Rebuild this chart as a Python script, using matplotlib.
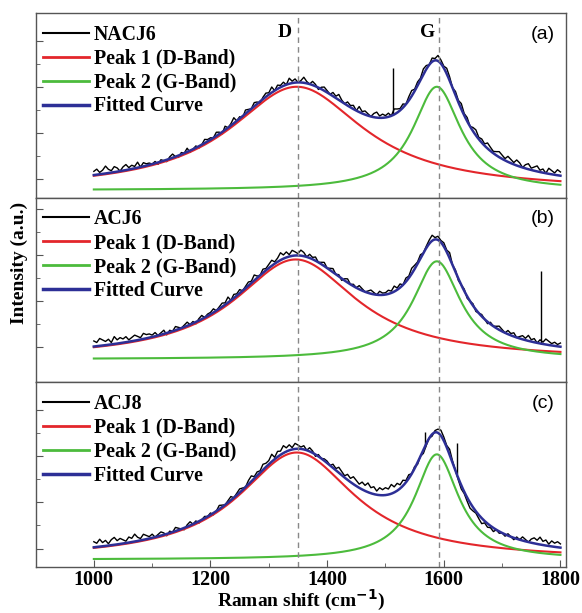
import numpy as np
import matplotlib
matplotlib.use('Agg')
from matplotlib import pyplot as plt
from matplotlib.lines import Line2D


SAMPLES = ['NACJ6', 'ACJ6', 'ACJ8']
PANEL_TAGS = ['(a)', '(b)', '(c)']
SERIES = ['Peak 1 (D-Band)', 'Peak 2 (G-Band)', 'Fitted Curve']

# fit parameters (intensity in panel height units)
BASELINE = [0.04, 0.125, 0.04]
D_CENTER = [1348, 1346, 1348]
D_HWHM = [140, 128, 122]
D_HEIGHT = [0.56, 0.54, 0.58]
G_CENTER = [1588, 1588, 1588]
G_HWHM = [50, 50, 46]
G_HEIGHT = [0.56, 0.53, 0.57]

# measured spectrum = fitted curve + residual (x 0.01), every 5 cm-1 from 1000 to 1800
RESIDUALS = [
    [2, 3, 1, 2, 4, 2, 1, 3, 2, 0, 2, 3, 1, 2, 1, 3, 0, 2, 1, 1,
     0, 1, -1, 1, 0, -1, 1, 2, 0, -1, 1, 0, 2, -1, 0, 1, -1, 0, 2, 1,
     1, 0, 2, 1, -1, 2, 0, 1, 3, 0, 1, -1, 2, 1, 0, 2, 1, -1, 1, 2,
     1, 3, 0, 2, 1, 2, 0, 3, 1, 2, 0, 1, 3, 1, 0, 2, 1, -1, 1, 2,
     1, 0, 2, 1, 3, 1, 0, 2, 1, 2, 0, 3, 1, 2, 1, 0, 2, 3, 1, 2,
     1, 2, 0, 3, 2, 1, 2, 0, 2, 3, 1, 2, 1, 3, 2, 0, 2, 1, 3, 2,
     1, 3, 2, 0, 2, 1, 3, 1, 2, 0, 2, 3, 1, 2, 1, 3, 2, 1, 2, 3,
     2, 1, 3, 2, 1, 3, 2, 0, 2, 3, 1, 2, 3, 1, 2, 0, 3, 2, 1, 3,
     2],
    [3, 2, 4, 3, 2, 3, 1, 4, 2, 3, 2, 3, 1, 2, 3, 2, 1, 3, 2, 2,
     1, 2, 0, 1, 2, -1, 1, 0, 2, 1, 0, 1, 2, 0, 1, -1, 1, 2, 0, 1,
     1, 2, 0, 1, 2, 1, 3, 0, 2, 1, 2, 0, 1, 2, 1, 3, 1, 0, 2, 1,
     2, 3, 1, 2, 4, 2, 3, 1, 3, 2, 1, 3, 2, 0, 2, 1, 2, 0, 1, 2,
     0, 1, 2, 0, 1, -1, 1, 2, 0, 1, 0, 2, 1, 0, 1, 2, 1, 0, 2, 1,
     1, 2, 1, 3, 1, 2, 0, 2, 1, 3, 2, 1, 2, 0, 1, 2, 3, 1, 2, 1,
     2, 1, 3, 0, 1, -1, 0, 1, -1, 0, 1, -1, 0, 1, 0, -1, 1, 0, 1, 2,
     1, 0, 2, 1, 2, 0, 1, 2, 1, 3, 1, 2, 0, 2, 1, 3, 2, 1, 2, 1,
     2],
    [3, 2, 4, 2, 3, 1, 3, 4, 2, 3, 2, 1, 3, 2, 4, 2, 1, 3, 2, 1,
     2, 0, 1, 2, 1, -1, 1, 0, 2, 1, 0, -1, 1, 2, 0, 1, -1, 0, 1, 0,
     1, -1, 0, 2, 1, 0, 1, 2, 0, 1, 2, 1, 0, 2, 3, 1, 2, 1, 3, 2,
     2, 4, 1, 3, 2, 4, 2, 3, 1, 3, 2, 1, 2, 0, 2, 1, -1, 1, 0, 1,
     1, 0, 2, 1, 3, 2, 1, 3, 2, 4, 3, 2, 4, 3, 5, 3, 4, 2, 4, 3,
     4, 3, 5, 3, 4, 2, 3, 1, 2, 0, 1, -1, 0, -2, -1, 0, -1, 1, 2, 3,
     2, 1, 3, 1, 0, -1, -2, -1, -2, -3, -2, -1, -2, -3, -1, -2, -1, -2, 0, -1,
     0, -1, 1, 0, -1, 1, 0, 2, 1, 0, 2, 3, 2, 4, 2, 3, 1, 3, 2, 3,
     2],
]

# single-channel spikes in the measured spectra
SPIKE_X = [[1513], [1766], [1567, 1622]]
SPIKE_TOP = [[0.70], [0.60], [0.73, 0.67]]

D_LINE = 1350
G_LINE = 1592

RED = '#e3262b'
GREEN = '#4cbb3c'
BLUE = '#2d2f96'
FRAME = '#555555'
SERIF = 'Liberation Serif'


def lorentz(x, center, hwhm, height):
    return height * hwhm ** 2 / ((x - center) ** 2 + hwhm ** 2)


fig, axes = plt.subplots(3, 1, figsize=(5.82, 6.13), dpi=100, sharex=True)
fig.subplots_adjust(left=0.061, right=0.973, top=0.979, bottom=0.075, hspace=0)

x_fine = np.linspace(1000, 1800, 801)
x_raw = np.arange(1000, 1801, 5)
tick_start = [0.10, 0.19, 0.10]

for i, ax in enumerate(axes):
    b = BASELINE[i]

    def fit(x):
        return (b + lorentz(x, D_CENTER[i], D_HWHM[i], D_HEIGHT[i])
                + lorentz(x, G_CENTER[i], G_HWHM[i], G_HEIGHT[i]))

    raw = fit(x_raw) + np.array(RESIDUALS[i]) / 100.0
    ax.plot(x_raw, raw, color='black', lw=1.0)
    sx = np.array(SPIKE_X[i])
    ax.vlines(sx, fit(sx), SPIKE_TOP[i], color='black', lw=1.0)

    ax.plot(x_fine, b + lorentz(x_fine, D_CENTER[i], D_HWHM[i], D_HEIGHT[i]),
            color=RED, lw=1.5)
    ax.plot(x_fine, b + lorentz(x_fine, G_CENTER[i], G_HWHM[i], G_HEIGHT[i]),
            color=GREEN, lw=1.5)
    ax.plot(x_fine, fit(x_fine), color=BLUE, lw=1.8)

    ax.axvline(D_LINE, color='#888888', ls=(0, (4, 3)), lw=1.0)
    ax.axvline(G_LINE, color='#888888', ls=(0, (4, 3)), lw=1.0)

    ax.set_xlim(900, 1810)
    ax.set_ylim(0, 1)
    major = np.arange(tick_start[i], 1.0, 0.25)
    ax.set_yticks(major)
    ax.set_yticks(major[:-1] + 0.125, minor=True)
    ax.set_yticklabels([])
    ax.tick_params(axis='y', which='major', direction='in', length=5, color=FRAME)
    ax.tick_params(axis='y', which='minor', direction='in', length=3, color=FRAME)
    for s in ax.spines.values():
        s.set_color(FRAME)
        s.set_linewidth(1.0)

    handles = [Line2D([], [], color='black', lw=1.5),
               Line2D([], [], color=RED, lw=2),
               Line2D([], [], color=GREEN, lw=2),
               Line2D([], [], color=BLUE, lw=2.5)]
    ax.legend(handles, [SAMPLES[i]] + SERIES, loc='upper left',
              bbox_to_anchor=(-0.012, 1.012), frameon=False,
              prop={'family': SERIF, 'weight': 'bold', 'size': 14.3},
              handlelength=2.3, handletextpad=0.25, labelspacing=0.2,
              borderaxespad=0.3)

    ax.text(0.978, 0.885, PANEL_TAGS[i], transform=ax.transAxes,
            ha='right', va='center', fontsize=14, family='Liberation Sans')

axes[0].text(1328, 0.895, 'D', ha='center', va='center', fontsize=14,
             family=SERIF, weight='bold')
axes[0].text(1573, 0.895, 'G', ha='center', va='center', fontsize=14,
             family=SERIF, weight='bold')

ax = axes[2]
ax.set_xticks(np.arange(1000, 1801, 200))
ax.set_xticks(np.arange(1100, 1800, 200), minor=True)
ax.tick_params(axis='x', which='major', direction='in', length=5, color=FRAME,
               labelsize=14.5, pad=2)
ax.tick_params(axis='x', which='minor', direction='in', length=3, color=FRAME)
for lab in ax.get_xticklabels():
    lab.set_family(SERIF)
    lab.set_weight('bold')
for a in axes[:2]:
    a.tick_params(axis='x', which='both', length=0)

ax.set_xlabel('Raman shift (cm$^{\\mathbf{-1}}$)', family=SERIF, weight='bold',
              fontsize=14, labelpad=-1)
fig.text(0.034, 0.571, 'Intensity (a.u.)', rotation=90, ha='center', va='center',
         family=SERIF, weight='bold', fontsize=14)

plt.savefig('out.png', dpi=100)
